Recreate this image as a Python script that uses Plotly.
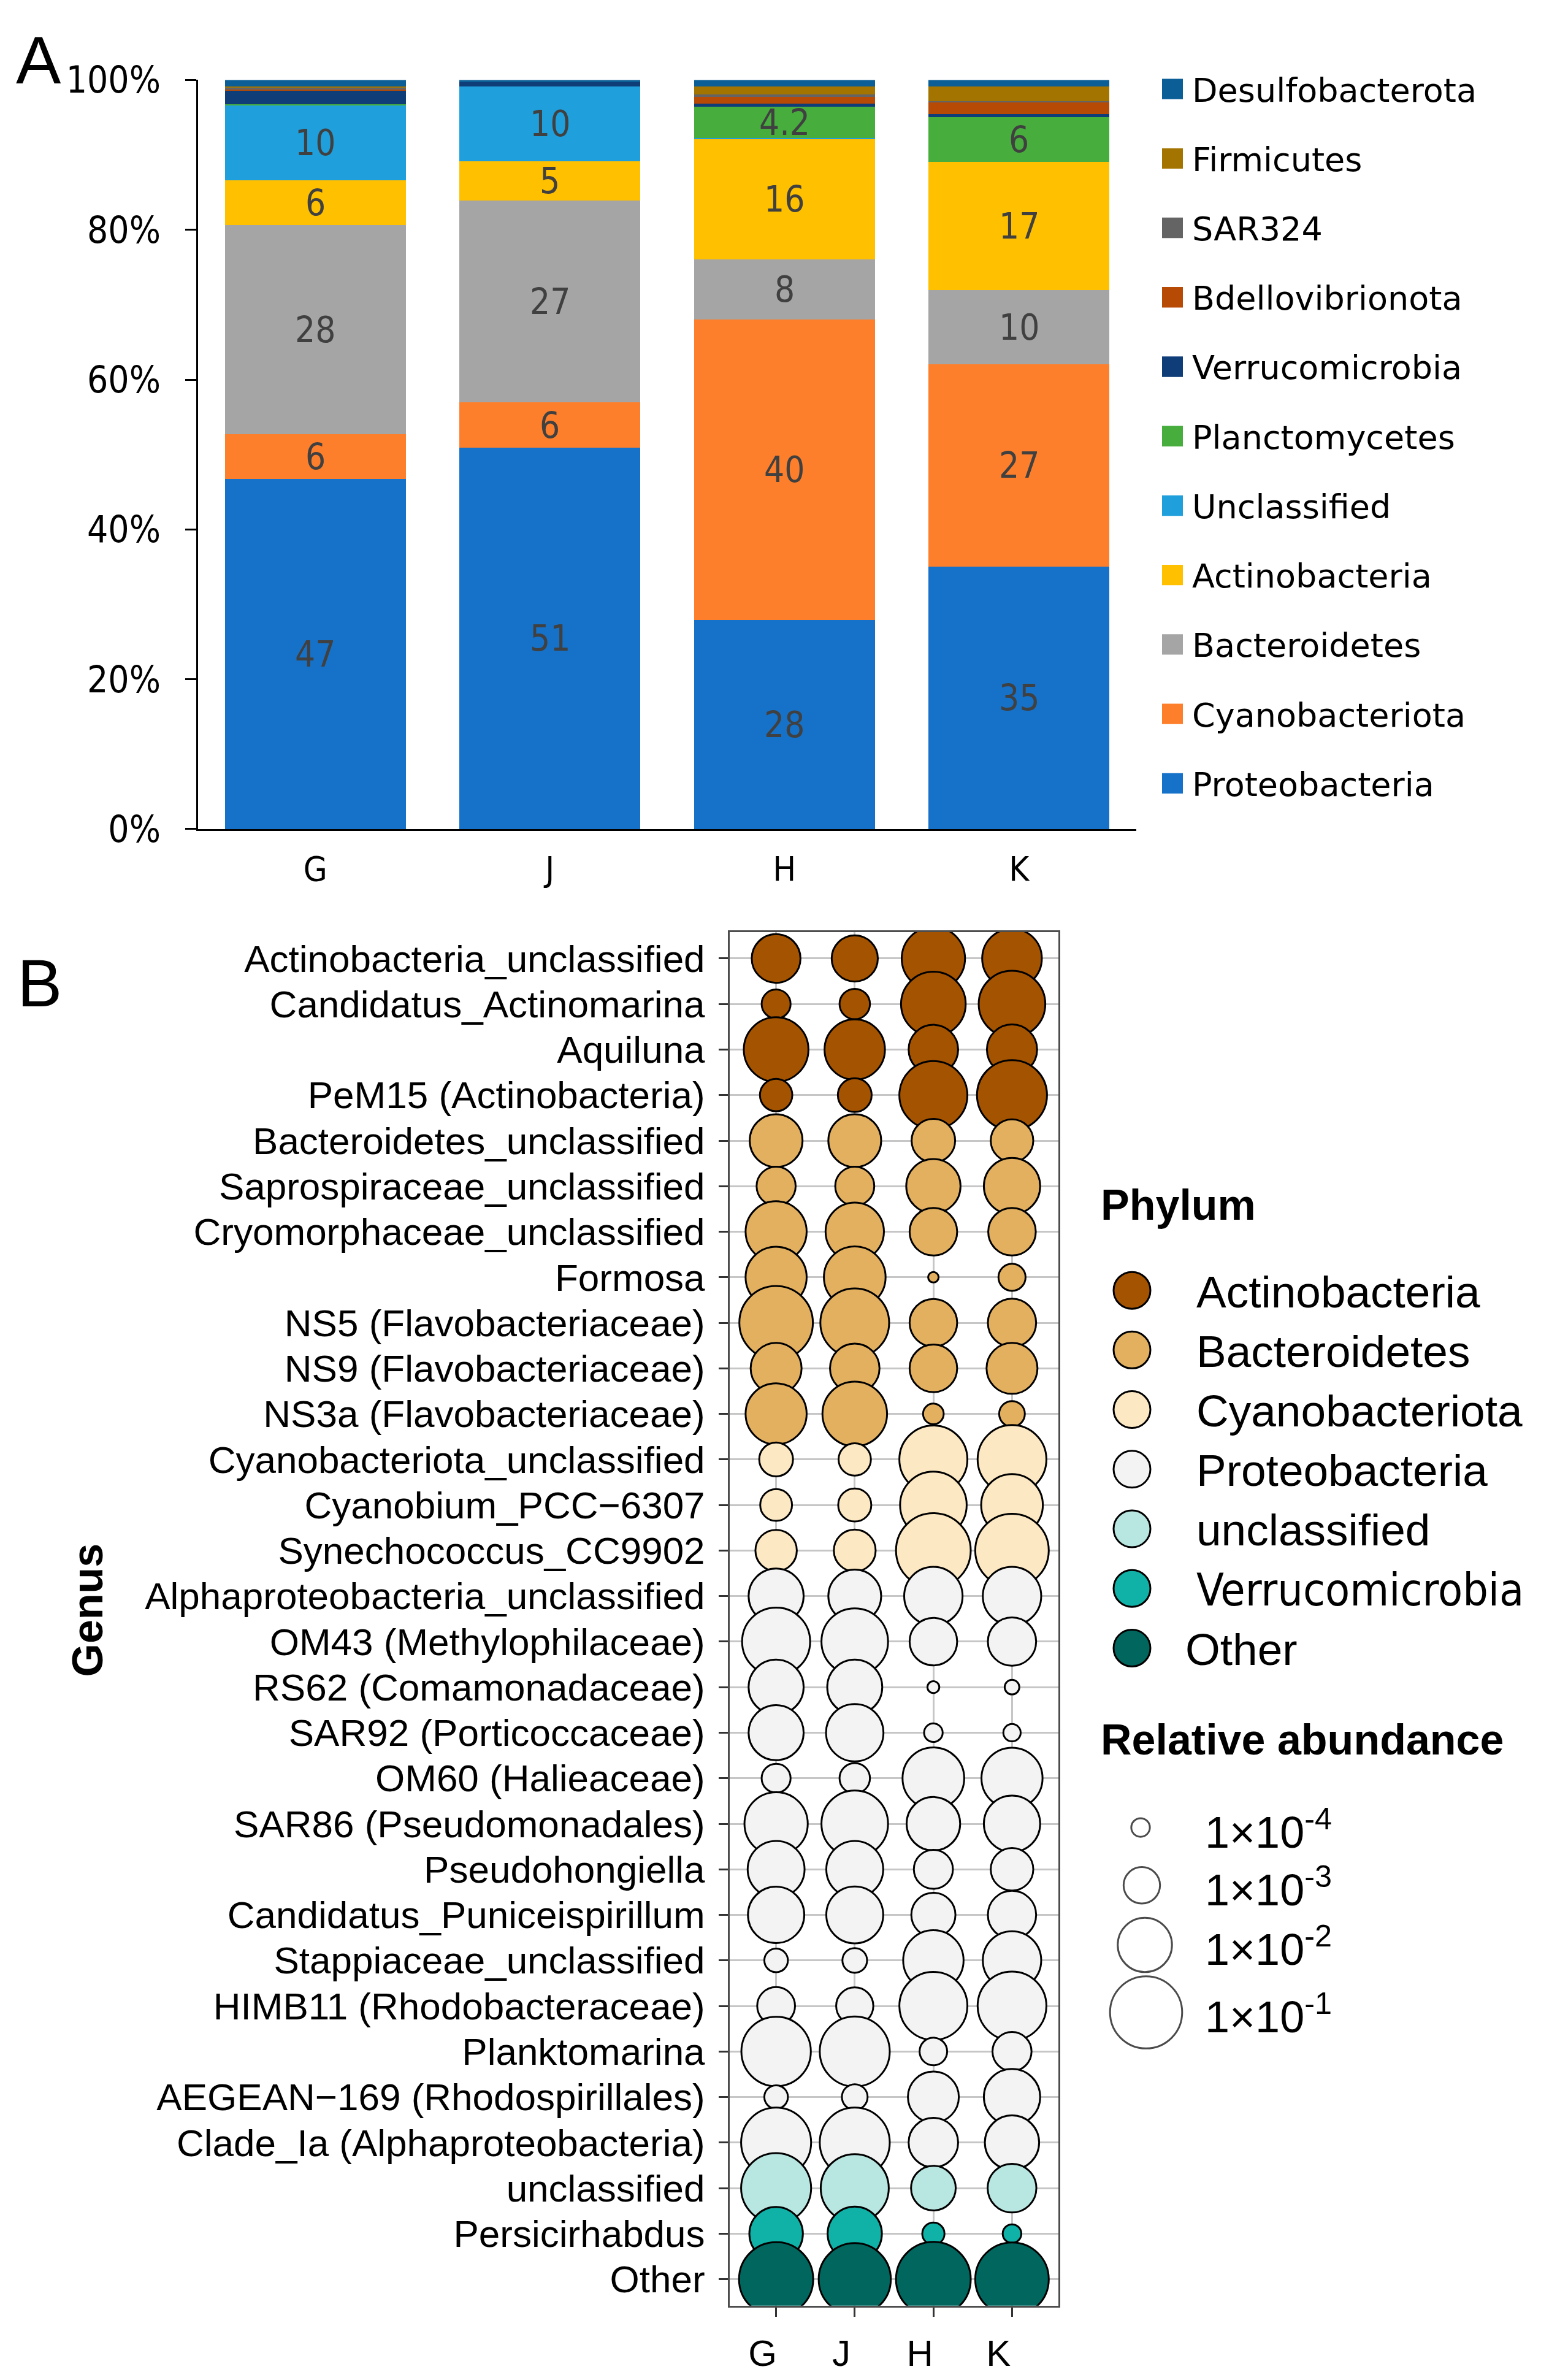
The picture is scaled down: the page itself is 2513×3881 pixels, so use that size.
import math
import plotly.graph_objects as go

W, H = 2513, 3881

# ---------------- Panel A data (percent) ----------------
samples = ["G", "J", "H", "K"]
proteobacteria = [46.7, 50.9, 27.9, 35.0]
cyanobacteriota = [6.0, 6.0, 40.1, 27.0]
bacteroidetes = [27.9, 27.0, 8.0, 9.9]
actinobacteria = [6.0, 5.2, 16.1, 17.1]
unclassified_a = [10.0, 10.0, 0.1, 0.0]
planctomycetes = [0.1, 0.0, 4.2, 6.0]
verrucomicrobia = [1.9, 0.6, 0.4, 0.4]
bdellovibrionota = [0.1, 0.0, 0.9, 1.6]
sar324 = [0.2, 0.0, 0.3, 0.1]
firmicutes = [0.2, 0.0, 1.1, 2.0]
desulfobacterota = [0.9, 0.3, 0.9, 0.9]

series_a = [
    ("Proteobacteria", proteobacteria, "#1672C9"),
    ("Cyanobacteriota", cyanobacteriota, "#FE7F2B"),
    ("Bacteroidetes", bacteroidetes, "#A5A5A5"),
    ("Actinobacteria", actinobacteria, "#FFC000"),
    ("Unclassified", unclassified_a, "#1F9FDB"),
    ("Planctomycetes", planctomycetes, "#47AE3E"),
    ("Verrucomicrobia", verrucomicrobia, "#0F3D78"),
    ("Bdellovibrionota", bdellovibrionota, "#B74A05"),
    ("SAR324", sar324, "#646464"),
    ("Firmicutes", firmicutes, "#A37400"),
    ("Desulfobacterota", desulfobacterota, "#0B5E96"),
]
yticks_a = [0, 20, 40, 60, 80, 100]

# ---------------- Panel B data (relative abundance) ----------------
genera = [
    "Actinobacteria_unclassified", "Candidatus_Actinomarina", "Aquiluna",
    "PeM15 (Actinobacteria)", "Bacteroidetes_unclassified", "Saprospiraceae_unclassified",
    "Cryomorphaceae_unclassified", "Formosa", "NS5 (Flavobacteriaceae)",
    "NS9 (Flavobacteriaceae)", "NS3a (Flavobacteriaceae)", "Cyanobacteriota_unclassified",
    "Cyanobium_PCC\u22126307", "Synechococcus_CC9902", "Alphaproteobacteria_unclassified",
    "OM43 (Methylophilaceae)", "RS62 (Comamonadaceae)", "SAR92 (Porticoccaceae)",
    "OM60 (Halieaceae)", "SAR86 (Pseudomonadales)", "Pseudohongiella",
    "Candidatus_Puniceispirillum", "Stappiaceae_unclassified", "HIMB11 (Rhodobacteraceae)",
    "Planktomarina", "AEGEAN\u2212169 (Rhodospirillales)", "Clade_Ia (Alphaproteobacteria)",
    "unclassified", "Persicirhabdus", "Other",
]
genus_phylum = (["Actinobacteria"] * 4 + ["Bacteroidetes"] * 7 + ["Cyanobacteriota"] * 3
                + ["Proteobacteria"] * 13 + ["unclassified", "Verrucomicrobia", "Other"])
abund_G = [4.9e-3, 3.8e-4, 3.8e-2, 5.9e-4, 8.3e-3, 1.4e-3, 2.4e-2, 2.4e-2, 1.2e-1, 6.5e-3,
           2.4e-2, 7.1e-4, 5.5e-4, 1.9e-3, 1.1e-2, 5.9e-2, 1.1e-2, 1.1e-2, 3.8e-4, 3.2e-2,
           1.4e-2, 1.3e-2, 1.9e-4, 1.2e-3, 7.1e-2, 1.9e-4, 7.6e-2, 7.6e-2, 9.1e-3, 1.3e-1]
abund_J = [3.5e-3, 4.6e-4, 2.2e-2, 7.1e-4, 8.3e-3, 1.4e-3, 1.7e-2, 2.6e-2, 6.5e-2, 5.4e-3,
           3.8e-2, 5.9e-4, 6.5e-4, 2.0e-3, 8.3e-3, 4.9e-2, 1.1e-2, 1.5e-2, 4.6e-4, 4.9e-2,
           1.4e-2, 1.4e-2, 2.2e-4, 1.1e-3, 7.6e-2, 2.5e-4, 7.6e-2, 5.9e-2, 1.0e-2, 1.0e-1]
abund_H = [3.2e-2, 3.8e-2, 5.4e-3, 5.9e-2, 2.5e-3, 1.0e-2, 4.2e-3, 3.5e-5, 4.2e-3, 4.2e-3,
           1.3e-4, 5.9e-2, 4.9e-2, 1.4e-1, 1.7e-2, 4.2e-3, 4.2e-5, 1.0e-4, 2.6e-2, 9.1e-3,
           1.4e-3, 2.7e-3, 2.2e-2, 5.9e-2, 3.2e-4, 6.5e-3, 5.4e-3, 2.9e-3, 1.6e-4, 1.4e-1]
abund_K = [2.0e-2, 4.9e-2, 5.9e-3, 7.6e-2, 2.2e-3, 1.3e-2, 4.2e-3, 3.0e-4, 4.6e-3, 6.5e-3,
           2.5e-4, 6.5e-2, 2.6e-2, 1.2e-1, 1.7e-2, 4.6e-3, 6.0e-5, 8.5e-5, 2.4e-2, 1.3e-2,
           2.2e-3, 4.6e-3, 1.7e-2, 6.5e-2, 1.4e-3, 1.3e-2, 1.0e-2, 4.9e-3, 1.0e-4, 1.2e-1]
phylum_names = ["Actinobacteria", "Bacteroidetes", "Cyanobacteriota", "Proteobacteria",
                "unclassified", "Verrucomicrobia", "Other"]
phylum_colors = {"Actinobacteria": "#A45300", "Bacteroidetes": "#E3B060",
                 "Cyanobacteriota": "#FCE8C3", "Proteobacteria": "#F3F3F3",
                 "unclassified": "#B8E6E1", "Verrucomicrobia": "#10B2A7", "Other": "#00665E"}
size_breaks = [1e-4, 1e-3, 1e-2, 1e-1]
size_break_labels = ["1\u00d710<sup>-4</sup>", "1\u00d710<sup>-3</sup>",
                     "1\u00d710<sup>-2</sup>", "1\u00d710<sup>-1</sup>"]

OUTLINE = 3.0


def diam(v):
    # diameter (px) linear in log10 abundance, as in the size legend
    return 33.3 + 29.1 * (math.log10(v) + 4) - OUTLINE


ARIAL = "Liberation Sans, Arial, Helvetica, sans-serif"
NARROW = "Liberation Sans Narrow, Arial Narrow, DejaVu Sans Condensed, sans-serif"
WIDE = "DejaVu Sans, Verdana, sans-serif"

fig = go.Figure()

# ---------------- Panel A bars ----------------
base = [0.0] * 4
annotations = []
for name, vals, col in series_a:
    fig.add_trace(go.Bar(x=samples, y=vals, name=name, marker=dict(color=col, line=dict(width=0)),
                         width=0.771, xaxis="x", yaxis="y", showlegend=False, hoverinfo="skip"))
    for i, v in enumerate(vals):
        if v >= 3:
            txt = str(int(round(v))) if v >= 4.5 else f"{v:.1f}"
            annotations.append(dict(x=samples[i], y=base[i] + v / 2, xref="x", yref="y", text=txt,
                                    showarrow=False, font=dict(family=NARROW, size=58, color="#404040")))
        base[i] += v

# ---------------- Panel B bubbles ----------------
xs, ys, ss, cs = [], [], [], []
for r, g in enumerate(genera):
    for s, arr in zip(samples, [abund_G, abund_J, abund_H, abund_K]):
        xs.append(s)
        ys.append(g)
        ss.append(diam(arr[r]))
        cs.append(phylum_colors[genus_phylum[r]])
fig.add_trace(go.Scatter(x=xs, y=ys, mode="markers", xaxis="x2", yaxis="y2", showlegend=False,
                         marker=dict(size=ss, color=cs, line=dict(color="black", width=OUTLINE),
                                     opacity=1), hoverinfo="skip"))

# ---------------- Legend glyphs on a pixel overlay axis ----------------
ph_y0, ph_dy = 2099, 99
fig.add_trace(go.Scatter(
    x=[1838] * len(phylum_names), y=[ph_y0 + k * ph_dy for k in range(len(phylum_names))],
    mode="markers", xaxis="x3", yaxis="y3", showlegend=False, cliponaxis=False,
    marker=dict(size=60, color=[phylum_colors[p] for p in phylum_names],
                line=dict(color="black", width=OUTLINE)), hoverinfo="skip"))
size_ys = [2991, 3087, 3186, 3298]
size_xs = [1852, 1854, 1859, 1861]
fig.add_trace(go.Scatter(
    x=size_xs, y=size_ys, mode="markers", xaxis="x3", yaxis="y3", showlegend=False, cliponaxis=False,
    marker=dict(size=[diam(v) for v in size_breaks], color="white",
                line=dict(color="black", width=OUTLINE)), hoverinfo="skip"))


def pann(x, y, text, size, family=ARIAL, xanchor="left", yanchor="middle", color="black", angle=0):
    annotations.append(dict(x=x, y=y, xref="x3", yref="y3", text=text, showarrow=False,
                            xanchor=xanchor, yanchor=yanchor, textangle=angle,
                            font=dict(family=family, size=size, color=color)))


shapes = []
# legend for panel A (drawn top to bottom: reversed stacking order)
for k, (name, vals, col) in enumerate(reversed(series_a)):
    cy = 104 + k * 115.3
    shapes.append(dict(type="rect", xref="x3", yref="y3", x0=1887, x1=1921, y0=cy - 17, y1=cy + 17,
                       fillcolor=col, line=dict(width=0)))
    pann(1934, cy + 2, name, 54, family=WIDE)

# legend for panel B
pann(1785, 1957, "<b>Phylum</b>", 70)
for k, p in enumerate(phylum_names):
    x = 1923 if p == "Other" else 1941
    fam = NARROW if p == "Verrucomicrobia" else ARIAL
    pann(x, ph_y0 + k * ph_dy + 2, p, 73, family=fam)
pann(1785, 2845, "<b>Relative abundance</b>", 70)
for yv, lab in zip(size_ys, size_break_labels):
    pann(1955, yv + 2, lab, 72)

# panel letters and axis title
pann(16, 56, "A", 110)
pann(18, 1588, "B", 110)
pann(135, 2630, "<b>Genus</b>", 70, xanchor="center", angle=-90)

fig.update_layout(
    width=W, height=H, margin=dict(l=0, r=0, t=0, b=0),
    paper_bgcolor="white", plot_bgcolor="rgba(0,0,0,0)",
    barmode="stack", bargap=0,
    annotations=annotations, shapes=shapes,
    xaxis=dict(domain=[315 / W, 1845 / W], anchor="y", type="category", categoryorder="array",
               categoryarray=samples, range=[-0.5, 3.5], showline=True, linecolor="black",
               linewidth=3, ticks="", showgrid=False, zeroline=False, ticklabelstandoff=14,
               tickfont=dict(family=NARROW, size=56, color="black")),
    yaxis=dict(domain=[1 - 1333 / H, 1 - 89 / H], anchor="x", range=[0, 100], tickvals=yticks_a,
               ticktext=[f"{t}%" for t in yticks_a], showline=True, linecolor="black", linewidth=3,
               ticks="outside", ticklen=18, tickwidth=3, tickcolor="black", showgrid=False,
               zeroline=False, ticklabelstandoff=28,
               tickfont=dict(family=NARROW, size=60, color="black")),
    xaxis2=dict(domain=[1182 / W, 1718 / W], anchor="y2", type="category", categoryorder="array",
                categoryarray=samples, range=[-0.59, 3.59], showline=True, mirror=True,
                linecolor="#4D4D4D", linewidth=3, ticks="outside", ticklen=15, tickwidth=3,
                tickcolor="#333333", showgrid=True, gridcolor="#C6C6C6", gridwidth=3,
                zeroline=False, ticklabelstandoff=8, ticklabelshift=-22,
                tickfont=dict(family=ARIAL, size=60, color="black")),
    yaxis2=dict(domain=[1 - 3785 / H, 1 - 1504 / H], anchor="x2", type="category",
                categoryorder="array", categoryarray=genera, range=[len(genera) - 0.42, -0.58],
                tickmode="array", tickvals=genera, ticktext=genera,
                showline=True, mirror=True, linecolor="#4D4D4D", linewidth=3, ticks="outside",
                ticklen=15, tickwidth=3, tickcolor="#333333", showgrid=True, gridcolor="#C6C6C6",
                gridwidth=3, zeroline=False, ticklabelstandoff=10,
                tickfont=dict(family=ARIAL, size=62, color="black")),
    xaxis3=dict(domain=[0, 1], anchor="y3", range=[0, W], visible=False, showgrid=False,
                zeroline=False, fixedrange=True),
    yaxis3=dict(domain=[0, 1], anchor="x3", range=[H, 0], visible=False, showgrid=False,
                zeroline=False, fixedrange=True),
)

fig.write_html("out.html")
